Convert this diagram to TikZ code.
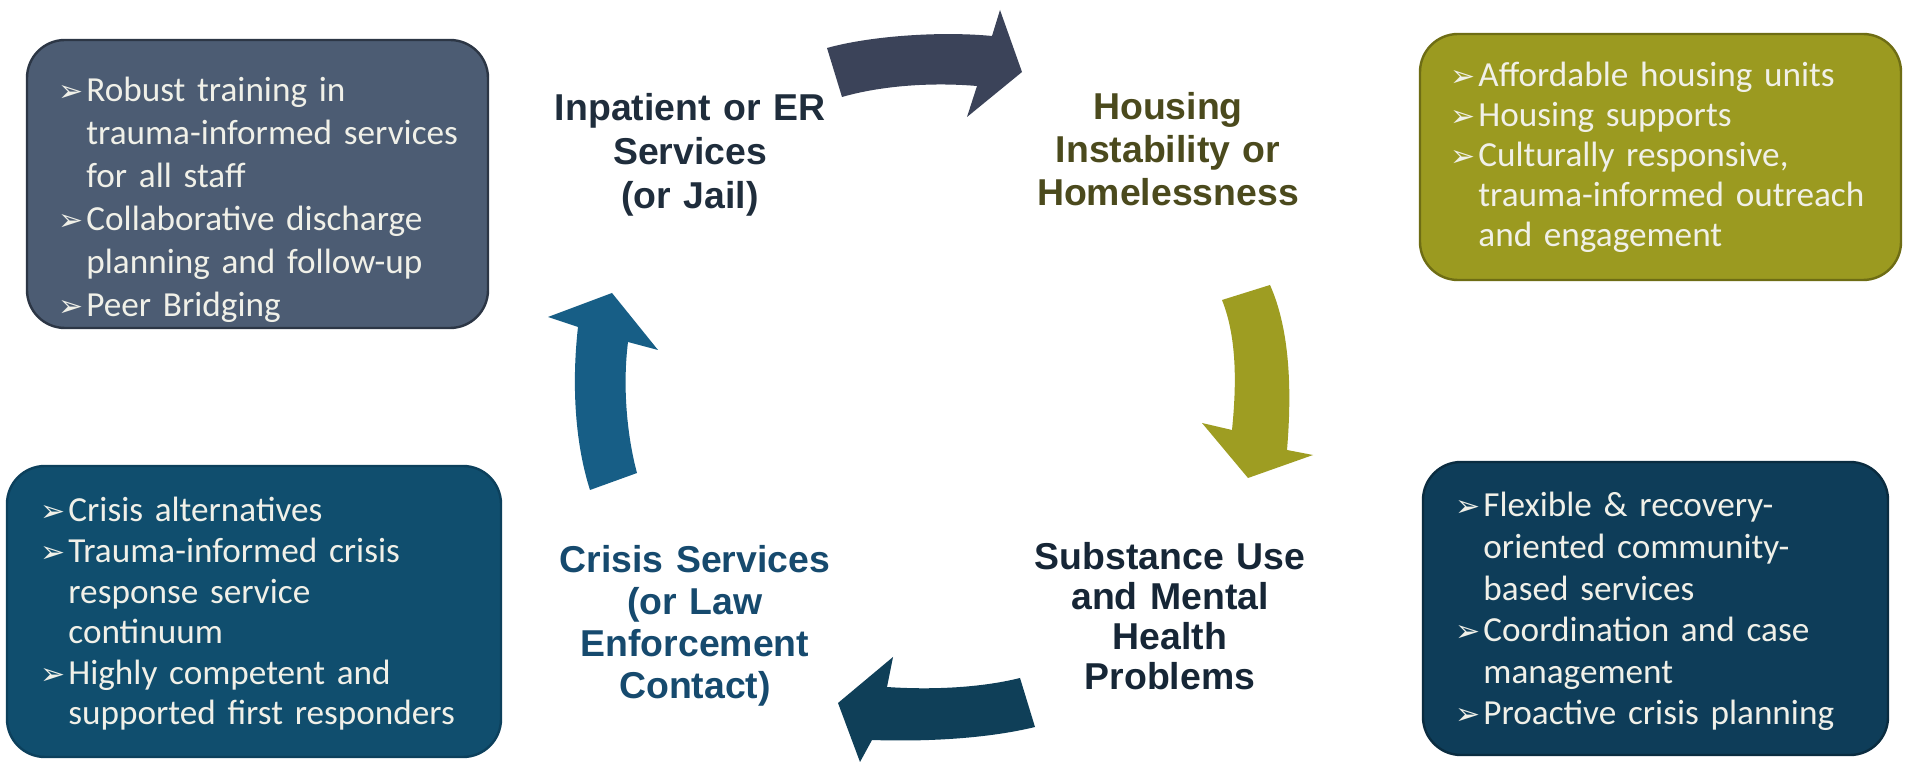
\documentclass[tikz,border=0pt]{standalone}
\usepackage{fontspec}
\newfontfamily\boxfont{Carlito}
\newfontfamily\labfont{Liberation Sans}
\newfontfamily\bulfont{DejaVu Sans}
\newcommand{\bul}{\leavevmode\llap{{\bulfont\fontsize{15}{15}\selectfont ➢}\hspace{1.5pt}}}
\definecolor{boxtext}{HTML}{F0F0E8}
\definecolor{tlfill}{HTML}{4C5C73}
\definecolor{tldraw}{HTML}{2C3645}
\definecolor{trfill}{HTML}{9B9A20}
\definecolor{trdraw}{HTML}{6E6D14}
\definecolor{blfill}{HTML}{104E6E}
\definecolor{bldraw}{HTML}{0C405C}
\definecolor{brfill}{HTML}{0E3D59}
\definecolor{brdraw}{HTML}{0A2C40}
\definecolor{arrtop}{HTML}{3B4359}
\definecolor{arrright}{HTML}{9E9D22}
\definecolor{arrbottom}{HTML}{0F3F58}
\definecolor{arrleft}{HTML}{175E86}
\definecolor{labinp}{HTML}{1F2D3C}
\definecolor{labhou}{HTML}{4B4A1D}
\definecolor{labsub}{HTML}{162636}
\definecolor{labcri}{HTML}{164A6E}
\tikzset{
  panel/.style={draw, line width=1.2pt, rounded corners=19pt, inner sep=0pt, outer sep=0pt},
  itemlist/.style={anchor=base west, inner sep=0pt, text width=230pt, align=left, text=boxtext,
    font=\boxfont\fontsize{17.6}{#1}\selectfont},
  cyclelabel/.style={anchor=base, inner sep=0pt, text width=200pt, align=center,
    font=\labfont\bfseries\fontsize{18.7}{#1}\selectfont}
}
\begin{document}
\begin{tikzpicture}[x=0.5pt,y=-0.5pt]
\useasboundingbox[fill=white] (0,0) rectangle (1906,763);

% panels
\node[panel, fill=tlfill, draw=tldraw, minimum width=230.5pt, minimum height=144pt] (tl) at (257.5,184) {};
\node[panel, fill=trfill, draw=trdraw, minimum width=240.5pt, minimum height=123pt] (tr) at (1660.5,157) {};
\node[panel, fill=blfill, draw=bldraw, minimum width=247pt, minimum height=145.5pt] (bl) at (254,611.5) {};
\node[panel, fill=brfill, draw=brdraw, minimum width=232.5pt, minimum height=146.5pt] (br) at (1655.5,608.5) {};

% panel texts
\node[itemlist=21.5pt] (tltext) at (86,102) {\bul Robust training in\\ trauma-informed services\\ for all staff\\ \bul Collaborative discharge\\ planning and follow-up\\ \bul Peer Bridging};
\node[itemlist=20pt] (trtext) at (1478,87) {\bul Affordable housing units\\ \bul Housing supports\\ \bul Culturally responsive,\\ trauma-informed outreach\\ and engagement};
\node[itemlist=20.3pt] (bltext) at (68,522) {\bul Crisis alternatives\\ \bul Trauma-informed crisis\\ response service\\ continuum\\ \bul Highly competent and\\ supported first responders};
\node[itemlist=20.8pt] (brtext) at (1483,517) {\bul Flexible \& recovery-\\ oriented community-\\ based services\\ \bul Coordination and case\\ management\\ \bul Proactive crisis planning};

% cycle labels
\node[cyclelabel=22pt, text=labinp] (inp) at (690,121) {Inpatient or ER\\ Services\\ (or Jail)};
\node[cyclelabel=21.5pt, text=labhou] (hou) at (1168,120) {Housing\\ Instability or\\ Homelessness};
\node[cyclelabel=20pt, text=labsub] (sub) at (1170,570) {Substance Use\\ and Mental\\ Health\\ Problems};
\node[cyclelabel=21pt, text=labcri] (cri) at (695,573) {Crisis Services\\ (or Law\\ Enforcement\\ Contact)};

% block arrows
\fill[arrtop] (827,48) .. controls (870,36) and (940,31) .. (992,36) -- (1000,10) -- (1022,72) -- (967,117) -- (977,86) .. controls (930,82) and (880,86) .. (842,97) -- cycle;
\fill[arrright] (1222,300) .. controls (1238,340) and (1236,390) .. (1232,430) -- (1202,423) -- (1248,478) -- (1313,455) -- (1287,450) .. controls (1292,390) and (1290,330) .. (1270,285) -- cycle;
\fill[arrbottom] (1020,678) .. controls (980,688) and (930,690) .. (887,687) -- (893,657) -- (838,703) -- (860,762) -- (872,740) .. controls (930,742) and (990,738) .. (1035,727) -- cycle;
\fill[arrleft] (612,293) -- (658,350) -- (628,342) .. controls (622,390) and (628,440) .. (637,473) -- (590,490) .. controls (574,440) and (572,380) .. (578,327) -- (548,317) -- cycle;
\end{tikzpicture}
\end{document}
